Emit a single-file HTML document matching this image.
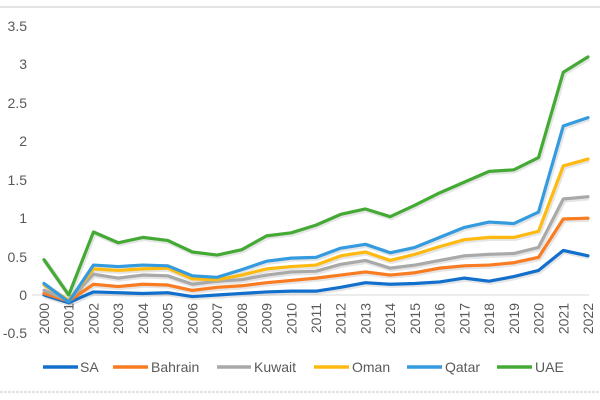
<!DOCTYPE html>
<html>
<head>
<meta charset="utf-8">
<style>
  html,body{margin:0;padding:0;background:#fff;}
  body{width:600px;height:400px;overflow:hidden;}
  svg{display:block;font-family:"Liberation Sans",sans-serif;}
  .t{fill:#595959;font-size:14px;}
  .s{fill:none;stroke-width:3.2;stroke-linejoin:round;stroke-linecap:round;vector-effect:non-scaling-stroke;}
  .sh{fill:none;stroke:#000;stroke-opacity:0.10;stroke-width:5;stroke-linejoin:round;vector-effect:non-scaling-stroke;}
</style>
</head>
<body>
<svg width="600" height="400" viewBox="0 0 600 400">
  <line x1="0" y1="7" x2="600" y2="7" stroke="#dcdcdc" stroke-width="1.5"/>
  <line x1="0" y1="392" x2="600" y2="392" stroke="#dcdcdc" stroke-width="1.5" stroke-dasharray="3,1"/>

  <!-- y labels -->
  <g class="t" text-anchor="end">
    <text x="27" y="31">3.5</text>
    <text x="27" y="69">3</text>
    <text x="27" y="108">2.5</text>
    <text x="27" y="146">2</text>
    <text x="27" y="185">1.5</text>
    <text x="27" y="223">1</text>
    <text x="27" y="262">0.5</text>
    <text x="27" y="300">0</text>
    <text x="27" y="338">-0.5</text>
  </g>

  <!-- zero axis -->
  <line x1="32" y1="295" x2="589" y2="295" stroke="#d9d9d9" stroke-width="1"/>

  <!-- x labels -->
  <g class="t" text-anchor="end">
    <text transform="translate(49,303) rotate(-90)">2000</text>
    <text transform="translate(73.7,303) rotate(-90)">2001</text>
    <text transform="translate(98.5,303) rotate(-90)">2002</text>
    <text transform="translate(123.2,303) rotate(-90)">2003</text>
    <text transform="translate(147.9,303) rotate(-90)">2004</text>
    <text transform="translate(172.6,303) rotate(-90)">2005</text>
    <text transform="translate(197.4,303) rotate(-90)">2006</text>
    <text transform="translate(222.1,303) rotate(-90)">2007</text>
    <text transform="translate(246.8,303) rotate(-90)">2008</text>
    <text transform="translate(271.5,303) rotate(-90)">2009</text>
    <text transform="translate(296.3,303) rotate(-90)">2010</text>
    <text transform="translate(321,303) rotate(-90)">2011</text>
    <text transform="translate(345.7,303) rotate(-90)">2012</text>
    <text transform="translate(370.5,303) rotate(-90)">2013</text>
    <text transform="translate(395.2,303) rotate(-90)">2014</text>
    <text transform="translate(419.9,303) rotate(-90)">2015</text>
    <text transform="translate(444.6,303) rotate(-90)">2016</text>
    <text transform="translate(469.4,303) rotate(-90)">2017</text>
    <text transform="translate(494.1,303) rotate(-90)">2018</text>
    <text transform="translate(518.8,303) rotate(-90)">2019</text>
    <text transform="translate(543.5,303) rotate(-90)">2020</text>
    <text transform="translate(568.3,303) rotate(-90)">2021</text>
    <text transform="translate(593,303) rotate(-90)">2022</text>
  </g>

  <!-- series -->
  <g transform="translate(44,295) scale(24.727,-76.8)">
    <!-- shadows -->
    <g transform="translate(0.04,-0.015)">
      <polyline class="sh" points="0,0 1,-0.10 2,0.04 3,0.03 4,0.02 5,0.03 6,-0.02 7,0 8,0.02 9,0.04 10,0.05 11,0.05 12,0.10 13,0.16 14,0.14 15,0.15 16,0.17 17,0.22 18,0.18 19,0.24 20,0.32 21,0.58 22,0.51"/>
      <polyline class="sh" points="0,0.02 1,-0.08 2,0.14 3,0.11 4,0.14 5,0.13 6,0.06 7,0.10 8,0.12 9,0.16 10,0.19 11,0.22 12,0.26 13,0.30 14,0.26 15,0.29 16,0.35 17,0.38 18,0.39 19,0.42 20,0.49 21,0.99 22,1.0"/>
      <polyline class="sh" points="0,0.06 1,-0.07 2,0.27 3,0.22 4,0.26 5,0.25 6,0.14 7,0.18 8,0.20 9,0.26 10,0.30 11,0.31 12,0.40 13,0.45 14,0.35 15,0.39 16,0.45 17,0.51 18,0.53 19,0.54 20,0.62 21,1.25 22,1.28"/>
      <polyline class="sh" points="0,0.13 1,-0.07 2,0.34 3,0.32 4,0.34 5,0.35 6,0.21 7,0.20 8,0.26 9,0.34 10,0.37 11,0.39 12,0.51 13,0.56 14,0.45 15,0.53 16,0.63 17,0.72 18,0.75 19,0.75 20,0.83 21,1.68 22,1.77"/>
      <polyline class="sh" points="0,0.15 1,-0.09 2,0.39 3,0.37 4,0.39 5,0.38 6,0.25 7,0.23 8,0.33 9,0.44 10,0.48 11,0.49 12,0.61 13,0.66 14,0.55 15,0.62 16,0.75 17,0.88 18,0.95 19,0.93 20,1.08 21,2.2 22,2.31"/>
      <polyline class="sh" points="0,0.46 1,0.0 2,0.82 3,0.68 4,0.75 5,0.71 6,0.56 7,0.52 8,0.59 9,0.77 10,0.81 11,0.91 12,1.05 13,1.12 14,1.02 15,1.17 16,1.33 17,1.47 18,1.61 19,1.63 20,1.79 21,2.9 22,3.1"/>
    </g>
    <polyline class="s" stroke="#1270CC" points="0,0 1,-0.10 2,0.04 3,0.03 4,0.02 5,0.03 6,-0.02 7,0 8,0.02 9,0.04 10,0.05 11,0.05 12,0.10 13,0.16 14,0.14 15,0.15 16,0.17 17,0.22 18,0.18 19,0.24 20,0.32 21,0.58 22,0.51"/>
    <polyline class="s" stroke="#F97B22" points="0,0.02 1,-0.08 2,0.14 3,0.11 4,0.14 5,0.13 6,0.06 7,0.10 8,0.12 9,0.16 10,0.19 11,0.22 12,0.26 13,0.30 14,0.26 15,0.29 16,0.35 17,0.38 18,0.39 19,0.42 20,0.49 21,0.99 22,1.0"/>
    <polyline class="s" stroke="#A9A9A9" points="0,0.06 1,-0.07 2,0.27 3,0.22 4,0.26 5,0.25 6,0.14 7,0.18 8,0.20 9,0.26 10,0.30 11,0.31 12,0.40 13,0.45 14,0.35 15,0.39 16,0.45 17,0.51 18,0.53 19,0.54 20,0.62 21,1.25 22,1.28"/>
    <polyline class="s" stroke="#FFBA12" points="0,0.13 1,-0.07 2,0.34 3,0.32 4,0.34 5,0.35 6,0.21 7,0.20 8,0.26 9,0.34 10,0.37 11,0.39 12,0.51 13,0.56 14,0.45 15,0.53 16,0.63 17,0.72 18,0.75 19,0.75 20,0.83 21,1.68 22,1.77"/>
    <polyline class="s" stroke="#349BDF" points="0,0.15 1,-0.09 2,0.39 3,0.37 4,0.39 5,0.38 6,0.25 7,0.23 8,0.33 9,0.44 10,0.48 11,0.49 12,0.61 13,0.66 14,0.55 15,0.62 16,0.75 17,0.88 18,0.95 19,0.93 20,1.08 21,2.2 22,2.31"/>
    <polyline class="s" stroke="#45AA35" points="0,0.46 1,0.0 2,0.82 3,0.68 4,0.75 5,0.71 6,0.56 7,0.52 8,0.59 9,0.77 10,0.81 11,0.91 12,1.05 13,1.12 14,1.02 15,1.17 16,1.33 17,1.47 18,1.61 19,1.63 20,1.79 21,2.9 22,3.1"/>
  </g>

  <!-- legend -->
  <g stroke-width="3.5">
    <line x1="43" y1="367" x2="78" y2="367" stroke="#1270CC"/>
    <line x1="113" y1="367" x2="148" y2="367" stroke="#F97B22"/>
    <line x1="217" y1="367" x2="251" y2="367" stroke="#A9A9A9"/>
    <line x1="314" y1="367" x2="349" y2="367" stroke="#FFBA12"/>
    <line x1="407" y1="367" x2="442" y2="367" stroke="#349BDF"/>
    <line x1="497" y1="367" x2="532" y2="367" stroke="#45AA35"/>
  </g>
  <g class="t">
    <text x="80" y="372">SA</text>
    <text x="151" y="372">Bahrain</text>
    <text x="254" y="372">Kuwait</text>
    <text x="352" y="372">Oman</text>
    <text x="445" y="372">Qatar</text>
    <text x="535" y="372">UAE</text>
  </g>
</svg>
</body>
</html>
